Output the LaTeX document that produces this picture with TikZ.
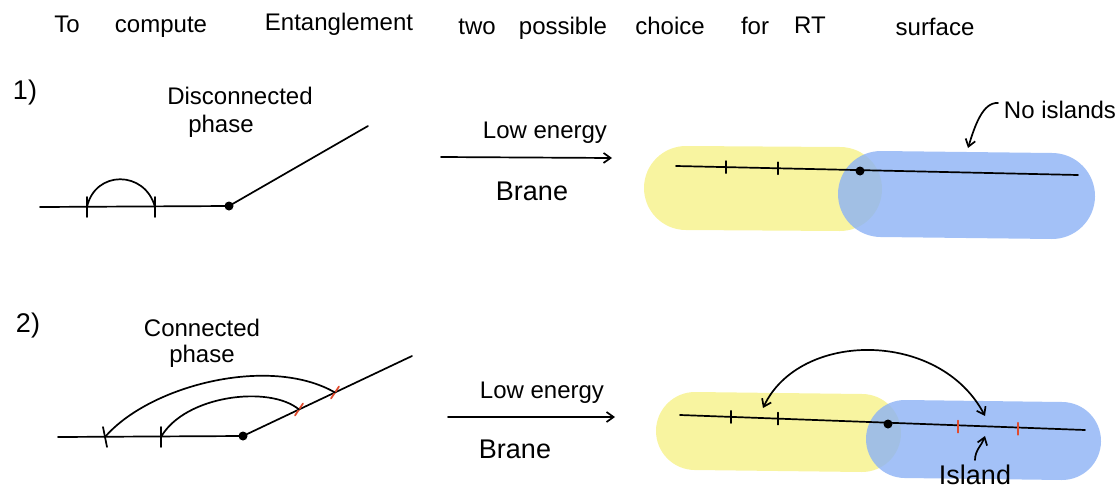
\documentclass[tikz,border=0pt]{standalone}
\usepackage{fontspec}
\setmainfont{Liberation Sans}
\usetikzlibrary{arrows.meta}
\definecolor{bandyellow}{RGB}{248,244,160}
\definecolor{bandblue}{RGB}{140,178,245}
\definecolor{tickred}{RGB}{225,75,45}
\begin{document}
\begin{tikzpicture}[x=1pt,y=-1pt,
  ink/.style={line width=1.7pt,line cap=round,line join=round},
  lbl/.style={font=\fontsize{24}{28}\selectfont,inner sep=0pt},
  big/.style={font=\fontsize{27}{30}\selectfont,inner sep=0pt},
  ttl/.style={font=\fontsize{24}{27}\selectfont,inner sep=0pt},
  ybar/.style={line cap=round,color=bandyellow},
  bbar/.style={line cap=round,color=bandblue,opacity=0.8},
  blk/.style={fill=black,inner sep=0pt,minimum size=9pt,circle},
  tip/.style={-{Straight Barb[length=7pt,width=10pt]}},
  tips/.style={{Straight Barb[length=7pt,width=10pt]}-{Straight Barb[length=7pt,width=10pt]}}
]
\useasboundingbox (0,0) rectangle (1119,490);
% title
\node[ttl] (t1) at (67,24) {To};
\node[ttl] (t2) at (161,27) {compute};
\node[ttl] (t3) at (339,24) {Entanglement};
\node[ttl] (t4) at (477,27) {two};
\node[ttl] (t5) at (563,28) {possible};
\node[ttl] (t6) at (670,26) {choice};
\node[ttl] (t7) at (755,26) {for};
\node[ttl] (t8) at (810,25) {RT};
\node[ttl] (t9) at (935,27) {surface};

% ---------- part 1 ----------
\node[big] (n1) at (25,93) {1)};
\node[lbl] (dis) at (240,96) {Disconnected};
\node[lbl] (ph1) at (221,126) {phase};
\coordinate (a1) at (40,207);
\node[blk] (d1) at (229,206) {};
\coordinate (b1) at (368,126);
\draw[ink] (a1) -- (d1.center) -- (b1);
\coordinate (k1) at (87,207);
\coordinate (k2) at (155,207);
\draw[ink] ([yshift=-10]k1) -- ([yshift=10]k1);
\draw[ink] ([yshift=-10]k2) -- ([yshift=10]k2);
\draw[ink] (k1) .. controls (95,170) and (145,170) .. (k2);

\coordinate (ar1s) at (441,157);
\coordinate (ar1e) at (612,158);
\draw[ink,tip] (ar1s) -- (ar1e);
\node[lbl] (le1) at (545,133) {Low energy};
\node[big] (br1) at (532,191) {Brane};

\draw[ybar,line width=84pt] (686,188) -- (840,189);
\draw[bbar,line width=86pt] (881,194) -- (1052,196);
\coordinate (l1s) at (676,166);
\coordinate (l1e) at (1078,175);
\node[blk] (d2) at (860,171) {};
\draw[ink] (l1s) -- (l1e);
\coordinate (k3) at (726,167.1);
\coordinate (k4) at (778,168.3);
\draw[ink] ([yshift=-6]k3) -- ([yshift=6]k3);
\draw[ink] ([yshift=-6]k4) -- ([yshift=6]k4);
\node[lbl] (noi) at (1060,110) {No islands};
\coordinate (noa) at (968,148);
\coordinate (nob) at (998,103);
\draw[ink,tip] (nob) .. controls (983,102) and (975,125) .. (noa);

% ---------- part 2 ----------
\node[big] (n2) at (28,326) {2)};
\node[lbl] (con) at (202,328) {Connected};
\node[lbl] (ph2) at (202,356) {phase};
\coordinate (a2) at (58,437);
\node[blk] (d3) at (243,436) {};
\coordinate (b2) at (412,356);
\draw[ink] (a2) -- (d3.center) -- (b2);
\coordinate (k5) at (105,437);
\coordinate (k6) at (161,437);
\draw[ink] ([xshift=-2,yshift=10]k5) -- ([xshift=2,yshift=-10]k5);
\draw[ink] ([yshift=10]k6) -- ([yshift=-10]k6);
\coordinate (r1) at (299,409.5);
\coordinate (r2) at (335,392.5);
\draw[ink,tickred] ([xshift=-4,yshift=-6]r1) -- ([xshift=4,yshift=6]r1);
\draw[ink,tickred] ([xshift=-4,yshift=-6]r2) -- ([xshift=4,yshift=6]r2);
\draw[ink] (k5) .. controls (150,385) and (270,355) .. (r2);
\draw[ink] (k6) .. controls (185,395) and (270,385) .. (r1);

\coordinate (ar2s) at (448,417);
\coordinate (ar2e) at (615,417);
\draw[ink,tip] (ar2s) -- (ar2e);
\node[lbl] (le2) at (542,393) {Low energy};
\node[big] (br2) at (515,449) {Brane};

\draw[ybar,line width=78pt] (695,431) -- (862,433);
\draw[bbar,line width=78pt] (905,439) -- (1062,441);
\coordinate (l2s) at (680,415);
\coordinate (l2e) at (1085,430);
\node[blk] (d4) at (888,424) {};
\draw[ink] (l2s) -- (l2e);
\coordinate (k7) at (731,416.9);
\coordinate (k8) at (778,418.6);
\draw[ink] ([yshift=-6]k7) -- ([yshift=6]k7);
\draw[ink] ([yshift=-6]k8) -- ([yshift=6]k8);
\coordinate (k9) at (958,426.6);
\coordinate (k10) at (1018,428.8);
\draw[ink,tickred] ([yshift=-6]k9) -- ([yshift=6]k9);
\draw[ink,tickred] ([yshift=-6]k10) -- ([yshift=6]k10);
\coordinate (cl) at (763,408);
\coordinate (cr) at (985,416);
\draw[ink,tips] (cl) .. controls (800,330) and (940,330) .. (cr);
\node[big] (isl) at (975,475) {Island};
\coordinate (isa) at (985,436);
\coordinate (isb) at (975,460);
\draw[ink,tip] (isb) .. controls (975,450) and (982,445) .. (isa);
\end{tikzpicture}
\end{document}
